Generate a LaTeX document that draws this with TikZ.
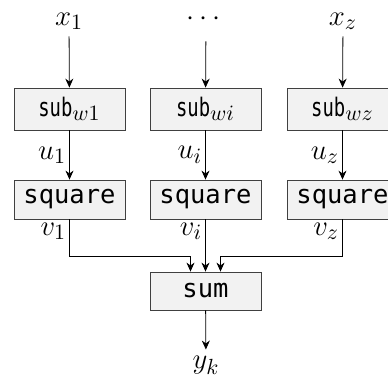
\documentclass[tikz,border=0pt]{standalone}
\usepackage{amsmath, amssymb}
\usepackage{graphicx}
\usepackage{fontspec}
\setmonofont{DejaVu Sans Mono}[Scale=0.85]
\newcommand{\subop}{\scalebox{0.74}[1]{\texttt{sub}}}
\usepackage{tikz}
\usetikzlibrary{arrows.meta, positioning, calc}

\begin{document}
\begin{tikzpicture}[x=0.5pt, y=-0.5pt, font=\fontsize{15}{17}\selectfont,
    box/.style={draw=black!75, fill=black!5, minimum width=55.5pt, inner sep=0pt},
    arr/.style={-{Stealth[length=4.5pt, width=4pt]}},
    lbl/.style={inner sep=1.5pt}]
    \useasboundingbox (0,0) rectangle (388,386);

    \node[anchor=base] (x1) at (69, 25) {$x_1$};
    \node[anchor=base, inner sep=1pt] (xdots) at (206, 25) {$\cdots$};
    \node[anchor=base] (xz) at (343, 25) {$x_z$};

    \node[box, minimum height=21pt] (sub1) at (69.5, 109) {\subop$_{w1}$};
    \node[box, minimum height=21pt] (subi) at (205.5, 109) {\subop$_{wi}$};
    \node[box, minimum height=21pt] (subz) at (342.5, 109) {\subop$_{wz}$};

    \node[box, minimum height=19.5pt] (sq1) at (69.5, 199.5) {\texttt{square}};
    \node[box, minimum height=19.5pt] (sqi) at (205.5, 199.5) {\texttt{square}};
    \node[box, minimum height=19.5pt] (sqz) at (342.5, 199.5) {\texttt{square}};

    \node[box, minimum height=19pt] (sum) at (205.5, 291) {\texttt{sum}};
    \node[anchor=base] (y) at (206, 369) {$y_k$};

    \draw[arr] (x1) -- (sub1);
    \draw[arr, shorten <=7pt] (xdots) -- (subi);
    \draw[arr] (xz) -- (subz);

    \draw[arr] (sub1) -- node[left, lbl] {$u_1$} (sq1);
    \draw[arr] (subi) -- node[left, lbl] {$u_i$} (sqi);
    \draw[arr] (subz) -- node[left, lbl] {$u_z$} (sqz);

    \node[anchor=north east, lbl] (v1) at (sq1.south) {$v_1$};
    \node[anchor=north east, lbl] (vi) at (sqi.south) {$v_i$};
    \node[anchor=north east, lbl] (vz) at (sqz.south) {$v_z$};

    \draw[arr] (sq1.south) -- ++(0, 37) -| ([xshift=-7.5pt]sum.north);
    \draw[arr] (sqi) -- (sum);
    \draw[arr] (sqz.south) -- ++(0, 37) -| ([xshift=7.5pt]sum.north);

    \draw[arr] (sum) -- (y);
\end{tikzpicture}
\end{document}
